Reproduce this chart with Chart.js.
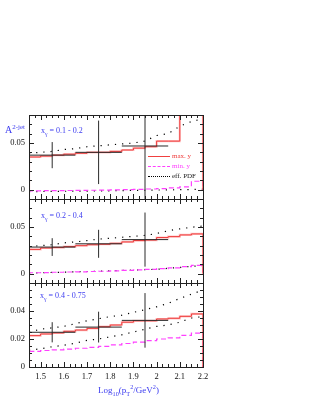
<!DOCTYPE html>
<html>
<head>
<meta charset="utf-8">
<script src="https://cdn.jsdelivr.net/npm/chart.js@4.4.0/dist/chart.umd.min.js"></script>
<style>
  body { margin: 0; background: #fff; }
  #wrap { position: relative; width: 312px; height: 404px; font-family: "Liberation Serif", serif; }
  canvas { position: absolute; left: 0; top: 0; }
  .t { position: absolute; white-space: nowrap; line-height: 1; color: #3c3cf0; }
  .t sub, .t sup { font-size: 70%; line-height: 0; }
  .lg { position: absolute; white-space: nowrap; line-height: 1; font-size: 7px; }
  .smp { position: absolute; width: 22px; height: 0; }
</style>
</head>
<body>
<div id="wrap">
  <canvas id="c1" width="312" height="404"></canvas>
  <canvas id="c2" width="312" height="404"></canvas>
  <canvas id="c3" width="312" height="404"></canvas>

  <div class="t" style="left:5px;top:125px;font-size:10px">A<sup>2-jet</sup></div>
  <div class="t" style="left:41px;top:127px;font-size:8px">x<sub>γ</sub> = 0.1 - 0.2</div>
  <div class="t" style="left:41px;top:212px;font-size:8px">x<sub>γ</sub> = 0.2 - 0.4</div>
  <div class="t" style="left:40px;top:292px;font-size:8px">x<sub>γ</sub> = 0.4 - 0.75</div>
  <div class="t" style="left:98px;top:386px;font-size:9px">Log<sub>10</sub>(p<sub>T</sub><sup>2</sup>/GeV<sup>2</sup>)</div>

  <div class="smp" style="left:148px;top:156px;border-top:1px solid #f04040"></div>
  <div class="lg" style="left:172px;top:153px;color:#f04040">max. y</div>
  <div class="smp" style="left:148px;top:166px;border-top:1px dashed #ff40ff"></div>
  <div class="lg" style="left:172px;top:163px;color:#ff40ff">min. y</div>
  <div class="smp" style="left:148px;top:176px;border-top:1px dotted #000"></div>
  <div class="lg" style="left:172px;top:173px;color:#222">eff. PDF</div>
</div>

<script>
// bin edges in log10(pT^2/GeV^2)
const binEdges = [1.45, 1.5, 1.55, 1.6, 1.65, 1.7, 1.75, 1.8, 1.85, 1.9, 1.95, 2.0, 2.05, 2.1, 2.15, 2.2];
const xTickLabels = [1.5, 1.6, 1.7, 1.8, 1.9, 2.0, 2.1, 2.2];

// data points (3 wide bins)
const dataCenter = [1.55, 1.75, 1.95];
const dataLow = [1.45, 1.65, 1.85];
const dataHigh = [1.65, 1.85, 2.05];

// x_gamma 0.1 - 0.2
const maxY1 = [0.035, 0.036, 0.037, 0.038, 0.039, 0.040, 0.040, 0.041, 0.0425, 0.0445, 0.046, 0.052, 0.052, 0.09, 0.09];
const minY1 = [-0.0012, -0.0011, -0.001, -0.0009, -0.0008, -0.0006, -0.0004, -0.0002, 0, 0.0003, 0.0007, 0.0012, 0.002, 0.003, 0.009];
const pdfHi1 = [0.039, 0.040, 0.041, 0.043, 0.044, 0.046, 0.047, 0.048, 0.049, 0.050, 0.052, 0.058, 0.060, 0.068, 0.073, 0.076];
const pdfLo1 = [-0.002, -0.002, -0.0018, -0.0017, -0.0016, -0.0015, -0.0014, -0.0012, -0.001, -0.0008, -0.0006, -0.0004, -0.0002, 0, 0.0002, 0.0005];
const data1 = [0.037, 0.040, 0.0468];
const err1 = [0.014, 0.034, 0.1];

// x_gamma 0.2 - 0.4
const maxY2 = [0.026, 0.0275, 0.028, 0.029, 0.030, 0.031, 0.0315, 0.0325, 0.034, 0.0355, 0.036, 0.0387, 0.0397, 0.0415, 0.0426];
const minY2 = [0.0010, 0.0012, 0.0015, 0.0018, 0.0020, 0.0023, 0.0026, 0.003, 0.0035, 0.004, 0.0047, 0.0055, 0.0063, 0.0075, 0.0088];
const pdfHi2 = [0.029, 0.030, 0.031, 0.033, 0.034, 0.0355, 0.037, 0.038, 0.039, 0.040, 0.041, 0.043, 0.046, 0.048, 0.0497, 0.051];
const pdfLo2 = [0.0005, 0.001, 0.0013, 0.0016, 0.002, 0.0023, 0.0026, 0.003, 0.0034, 0.0038, 0.0042, 0.0047, 0.0057, 0.0067, 0.0078, 0.0088];
const data2 = [0.0285, 0.032, 0.0365];
const err2 = [0.0095, 0.015, 0.029];

// x_gamma 0.4 - 0.75
const maxY3 = [0.0224, 0.0236, 0.0243, 0.0255, 0.0264, 0.0276, 0.0288, 0.030, 0.032, 0.033, 0.033, 0.0343, 0.0348, 0.0362, 0.0379];
const minY3 = [0.0112, 0.0118, 0.0122, 0.0128, 0.0134, 0.014, 0.0148, 0.0158, 0.0168, 0.0178, 0.0188, 0.0200, 0.0208, 0.0226, 0.0242];
const pdfHi3 = [0.025, 0.027, 0.028, 0.029, 0.031, 0.033, 0.0345, 0.036, 0.037, 0.039, 0.041, 0.043, 0.0455, 0.049, 0.052, 0.055];
const pdfLo3 = [0.012, 0.013, 0.0145, 0.0155, 0.017, 0.019, 0.020, 0.0215, 0.023, 0.025, 0.027, 0.029, 0.030, 0.032, 0.035, 0.036];
const data3 = [0.0248, 0.0285, 0.0333];
const err3 = [0.0072, 0.011, 0.0195];

// closed histogram: starts and ends at 0
function hist(vals) {
  const pts = [{ x: binEdges[0], y: 0 }];
  vals.forEach((v, i) => pts.push({ x: binEdges[i], y: v }));
  pts.push({ x: binEdges[binEdges.length - 1], y: 0 });
  return pts;
}
function curve(vals) {
  return vals.map((v, i) => ({ x: binEdges[i], y: v }));
}
function hbars(vals) {
  const pts = [];
  vals.forEach((v, i) => {
    pts.push({ x: dataLow[i], y: v }, { x: dataHigh[i], y: v }, { x: dataHigh[i], y: null });
  });
  return pts;
}
function vbars(vals, errs) {
  const pts = [];
  vals.forEach((v, i) => {
    pts.push({ x: dataCenter[i], y: v - errs[i] }, { x: dataCenter[i], y: v + errs[i] }, { x: dataCenter[i], y: null });
  });
  return pts;
}

const framePlugin = {
  id: 'frame',
  afterDatasetsDraw(chart, args, opts) {
    const { ctx, chartArea: a, scales } = chart;
    const x = scales.x, y = scales.y;
    ctx.save();
    ctx.strokeStyle = '#222';
    ctx.lineWidth = 1;
    ctx.beginPath();
    // x ticks every 0.025, long ones every 0.1
    for (let k = 0; k <= 30; k++) {
      const px = Math.round(x.getPixelForValue(1.45 + k * 0.025)) + 0.5;
      const len = (k - 2) % 4 === 0 ? 5 : 3;
      ctx.moveTo(px, a.top); ctx.lineTo(px, a.top + len);
      ctx.moveTo(px, a.bottom); ctx.lineTo(px, a.bottom - len);
    }
    // y ticks
    const n = Math.round((opts.max - opts.min) / opts.minor);
    const every = Math.round(opts.major / opts.minor);
    const off = Math.round(-opts.min / opts.minor);
    for (let k = 0; k <= n; k++) {
      const py = Math.round(y.getPixelForValue(opts.min + k * opts.minor)) + 0.5;
      const len = (k - off) % every === 0 ? 5 : 3;
      ctx.moveTo(a.left, py); ctx.lineTo(a.left + len, py);
      ctx.moveTo(a.right, py); ctx.lineTo(a.right - len, py);
    }
    ctx.stroke();
    ctx.strokeRect(Math.round(a.left) + 0.5, Math.round(a.top) + 0.5, Math.round(a.right - a.left), Math.round(a.bottom - a.top));
    ctx.restore();
  }
};

const tickFont = { family: '"Liberation Serif", serif', size: 8.5 };

function makePanel(id, p) {
  const datasets = [
    { data: hbars(p.data), borderColor: '#2a2a2a', borderWidth: 1, order: 0 },
    { data: vbars(p.data, p.err), borderColor: '#2a2a2a', borderWidth: 1, order: 0 },
    { data: hist(p.maxY), borderColor: '#ee3a3a', borderWidth: 1, stepped: true, order: 1 },
    { data: hist(p.maxY), borderColor: 'rgba(255,150,150,0.55)', borderWidth: 2.2, stepped: true, order: 2 },
    { data: hist(p.minY), borderColor: '#ff40ff', borderWidth: 1.2, borderDash: [5, 3], stepped: true, order: 3 },
    { data: curve(p.pdfHi), borderColor: '#000', borderWidth: 1.2, borderDash: [1.2, 6], order: 4 },
    { data: curve(p.pdfLo), borderColor: '#000', borderWidth: 1.2, borderDash: [1.2, 6], order: 4 }
  ];
  datasets.forEach(d => { d.pointRadius = 0; d.fill = false; d.clip = 0; d.tension = 0; });

  return new Chart(document.getElementById(id), {
    type: 'line',
    data: { datasets },
    options: {
      responsive: false,
      animation: false,
      events: [],
      layout: { padding: { left: 0, right: 109, top: p.top, bottom: p.bottom } },
      plugins: {
        legend: { display: false },
        tooltip: { enabled: false },
        frame: { min: p.min, max: p.max, minor: p.minor, major: p.major }
      },
      scales: {
        x: {
          type: 'linear', min: 1.45, max: 2.2,
          display: p.showX,
          grid: { display: false, drawTicks: false },
          border: { display: false },
          afterBuildTicks: s => { s.ticks = xTickLabels.map(v => ({ value: v })); },
          afterFit: s => { s.height = p.showX ? 37 : 0; },
          ticks: { font: tickFont, color: '#111', padding: 5, autoSkip: false, maxRotation: 0,
                   callback: v => String(+v.toFixed(1)) }
        },
        y: {
          min: p.min, max: p.max,
          grid: { display: false, drawTicks: false },
          border: { display: false },
          afterFit: s => { s.width = 29; },
          afterBuildTicks: s => { s.ticks = p.yLabels.map(v => ({ value: v })); },
          ticks: { font: tickFont, color: '#111', padding: 4, autoSkip: false,
                   callback: v => (v === 0 ? '0' : v.toFixed(2)) }
        }
      }
    },
    plugins: [framePlugin]
  });
}

makePanel('c1', { maxY: maxY1, minY: minY1, pdfHi: pdfHi1, pdfLo: pdfLo1, data: data1, err: err1,
  min: -0.01, max: 0.08, minor: 0.01, major: 0.05, yLabels: [0, 0.05], top: 115, bottom: 205, showX: false });
makePanel('c2', { maxY: maxY2, minY: minY2, pdfHi: pdfHi2, pdfLo: pdfLo2, data: data2, err: err2,
  min: -0.01, max: 0.08, minor: 0.01, major: 0.05, yLabels: [0, 0.05], top: 199, bottom: 121, showX: false });
makePanel('c3', { maxY: maxY3, minY: minY3, pdfHi: pdfHi3, pdfLo: pdfLo3, data: data3, err: err3,
  min: 0, max: 0.06, minor: 0.005, major: 0.02, yLabels: [0, 0.02, 0.04], top: 283, bottom: 0, showX: true });
</script>
</body>
</html>
